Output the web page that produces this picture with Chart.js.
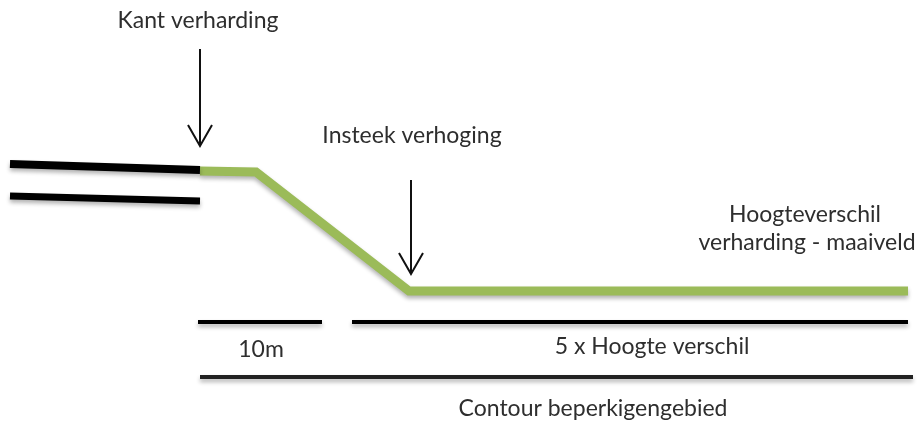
<!DOCTYPE html>
<html>
<head>
<meta charset="utf-8">
<script src="https://cdn.jsdelivr.net/npm/chart.js@4"></script>
<style>
  html, body { margin: 0; padding: 0; background: #fff; }
  #wrap { width: 920px; height: 424px; position: relative; }
</style>
</head>
<body>
<div id="wrap"><canvas id="c"></canvas></div>
<script>
// profile of road edge and slope (x, y in drawing units, y grows downward)
const roadTopX = [10, 200];
const roadTopY = [164, 170];
const roadBottomX = [10, 200];
const roadBottomY = [196, 201];
const slopeX = [200, 256, 409, 908];
const slopeY = [171, 172, 291, 291];

// arrows
const arrow1X = [200, 200];
const arrow1Y = [49, 146];
const arrow2X = [411, 411];
const arrow2Y = [180, 274];

// dimension bars
const dim10mX = [198, 322];
const dim10mY = [322, 322];
const dimFiveX = [352, 908];
const dimFiveY = [322, 322];
const dimContourX = [200, 913];
const dimContourY = [377, 377];

// texts
const labelTexts = ['Kant verharding', 'Insteek verhoging', 'Hoogteverschil', 'verharding - maaiveld',
  '10m', '5 x Hoogte verschil', 'Contour beperkigengebied'];
const labelX = [198, 412, 805, 807, 261, 652, 593];
const labelY = [21, 136, 215, 243, 350, 347, 409];

const toPoints = (xs, ys) => xs.map((x, i) => ({ x, y: ys[i] }));

const lineSet = (xs, ys, color, width, shadow = true) => ({
  data: toPoints(xs, ys),
  borderColor: color,
  borderWidth: width,
  borderCapStyle: 'butt',
  borderJoinStyle: 'miter',
  showLine: true,
  pointRadius: 0,
  shadow
});

// arrow head built from the tip of each arrow
const headSet = (xs, ys) => {
  const tx = xs[1], ty = ys[1];
  return lineSet([tx - 12, tx, tx + 12], [ty - 21, ty, ty - 21], '#111', 2, false);
};

const shadowPlugin = {
  id: 'lineShadow',
  beforeDatasetDraw(chart, args) {
    const ds = chart.data.datasets[args.index];
    const ctx = chart.ctx;
    ctx.save();
    if (ds.shadow) {
      ctx.shadowColor = 'rgba(0,0,0,0.3)';
      ctx.shadowBlur = 4;
      ctx.shadowOffsetY = 3;
    }
  },
  afterDatasetDraw(chart) {
    chart.ctx.restore();
  }
};

const textPlugin = {
  id: 'labels',
  afterDraw(chart) {
    const { ctx, scales } = chart;
    ctx.save();
    ctx.fillStyle = '#2e2e2e';
    ctx.font = '23px Lato';
    ctx.textAlign = 'center';
    ctx.textBaseline = 'middle';
    labelTexts.forEach((t, i) => {
      ctx.fillText(t, scales.x.getPixelForValue(labelX[i]), scales.y.getPixelForValue(labelY[i]));
    });
    ctx.restore();
  }
};

new Chart(document.getElementById('c'), {
  type: 'scatter',
  data: {
    datasets: [
      lineSet(roadTopX, roadTopY, '#000', 8),
      lineSet(roadBottomX, roadBottomY, '#000', 7),
      lineSet(slopeX, slopeY, '#9bbb59', 9),
      lineSet(arrow1X, arrow1Y, '#111', 2, false),
      headSet(arrow1X, arrow1Y),
      lineSet(arrow2X, arrow2Y, '#111', 2, false),
      headSet(arrow2X, arrow2Y),
      lineSet(dim10mX, dim10mY, '#000', 4),
      lineSet(dimFiveX, dimFiveY, '#000', 4),
      lineSet(dimContourX, dimContourY, '#222', 4)
    ]
  },
  options: {
    responsive: true,
    maintainAspectRatio: false,
    animation: false,
    layout: { padding: 0 },
    scales: {
      x: { type: 'linear', min: 0, max: 920, display: false },
      y: { type: 'linear', min: 0, max: 424, reverse: true, display: false }
    },
    plugins: {
      legend: { display: false },
      tooltip: { enabled: false }
    }
  },
  plugins: [shadowPlugin, textPlugin]
});
</script>
</body>
</html>
